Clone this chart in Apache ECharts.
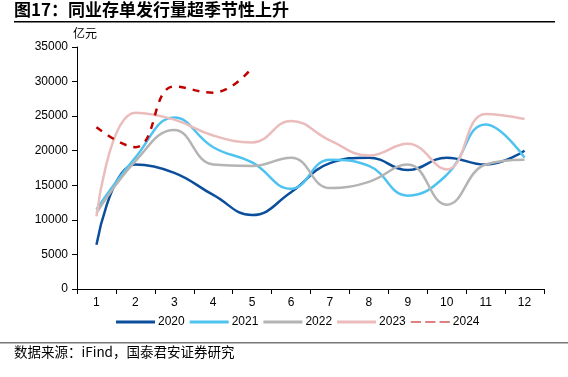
<!DOCTYPE html>
<html>
<head>
<meta charset="utf-8">
<script src="https://cdn.jsdelivr.net/npm/echarts@6/dist/echarts.min.js"></script>
<style>
  html, body { margin: 0; padding: 0; background: #fff; }
  #main { width: 568px; height: 377px; }
</style>
</head>
<body>
<div id="main"></div>
<script>
// 月份
var months = ['1', '2', '3', '4', '5', '6', '7', '8', '9', '10', '11', '12'];
// 各年同业存单发行量（亿元）
var y2020 = [6400, 18000, 16800, 13600, 10700, 14000, 18200, 19000, 17200, 19000, 18000, 20000];
var y2021 = [11500, 19000, 24800, 20500, 18300, 14500, 18700, 17800, 13500, 16500, 23800, 19000];
var y2022 = [11000, 18500, 23000, 18000, 17800, 19000, 14600, 15500, 18000, 12200, 18000, 18700];
var y2023 = [10500, 25500, 24500, 22200, 21200, 24300, 21500, 19300, 21000, 17300, 25300, 24600];
var y2024 = [23400, 20500, 29300, 28400, 32000];

var chart = echarts.init(document.getElementById('main'), null, { renderer: 'canvas' });

function line(name, data, color, dashed) {
  return {
    name: name,
    type: 'line',
    data: data,
    smooth: 0.45,
    symbol: 'none',
    lineStyle: { color: color, width: 2.5, type: dashed ? [7, 7] : 'solid' },
    itemStyle: { color: color }
  };
}

var option = {
  animation: false,
  textStyle: { fontFamily: 'Liberation Sans, Arial, sans-serif' },
  grid: { left: 77, right: 24, top: 47, bottom: 88, containLabel: false },
  legend: {
    top: 316,
    left: 116,
    padding: 0,
    itemWidth: 39,
    itemHeight: 3,
    itemGap: 5,
    textStyle: { fontSize: 12, color: '#000', padding: [0, 0, 0, -2] },
    data: [
      { name: '2020', icon: 'rect' },
      { name: '2021', icon: 'rect' },
      { name: '2022', icon: 'rect' },
      { name: '2023', icon: 'rect' },
      { name: '2024', icon: 'path://M0,0H10V1H0Z M14,0H24V1H14Z M28,0H38V1H28Z' }
    ]
  },
  xAxis: {
    type: 'category',
    data: months,
    boundaryGap: true,
    axisLine: { lineStyle: { color: '#000', width: 1 } },
    axisTick: { show: true, length: 5, lineStyle: { color: '#000' } },
    axisLabel: { color: '#000', fontSize: 12, margin: 8 }
  },
  yAxis: {
    type: 'value',
    min: 0,
    max: 35000,
    interval: 5000,
    name: '亿元',
    nameLocation: 'end',
    nameGap: 8,
    nameTextStyle: { color: '#000', fontSize: 12, fontFamily: 'Noto Sans CJK SC', align: 'left', padding: [0, 0, 0, -4] },
    splitLine: { show: false },
    axisLine: { show: true, lineStyle: { color: '#000', width: 1 } },
    axisTick: { show: true, length: 5, lineStyle: { color: '#000' } },
    axisLabel: { color: '#000', fontSize: 12, margin: 9, formatter: function (v) { return String(v); } }
  },
  series: [
    line('2020', y2020, '#0b4f9c'),
    line('2021', y2021, '#4fc3f0'),
    line('2022', y2022, '#b4b4b4'),
    line('2023', y2023, '#ebbcbc'),
    line('2024', y2024, '#c00000', true)
  ],
  graphic: [
    {
      type: 'text', left: 14, top: 1,
      style: { text: '图17：同业存单发行量超季节性上升', fontSize: 17, fontWeight: 'bold', fill: '#000', fontFamily: 'Noto Sans CJK SC' }
    },
    { type: 'rect', left: 14, top: 21, shape: { width: 541, height: 1.5 }, style: { fill: '#000' } },
    { type: 'rect', left: 0, top: 342, shape: { width: 568, height: 1.5 }, style: { fill: '#777' } },
    {
      type: 'text', left: 14, top: 345,
      style: { text: '数据来源：iFind，国泰君安证券研究', fontSize: 13.5, fill: '#000', fontFamily: 'Noto Sans CJK SC' }
    }
  ]
};

chart.setOption(option);
</script>
</body>
</html>
